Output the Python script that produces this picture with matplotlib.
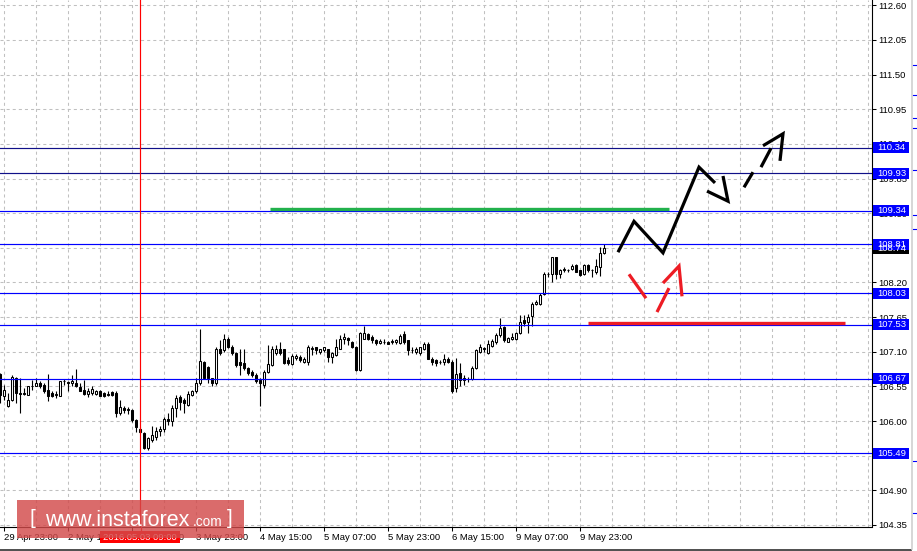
import matplotlib
matplotlib.use("Agg")
import matplotlib.pyplot as plt
from matplotlib.patches import Rectangle
from matplotlib.lines import Line2D
import numpy as np

plt.rcParams["font.family"] = ["Liberation Sans", "DejaVu Sans"]
plt.rcParams["lines.scale_dashes"] = False

# H1 bars; bar 0 = 29 Apr 23:00, the first visible bar (-1) is 29 Apr 22:00
bar_index = np.arange(-1, 151)
opens = [
    106.75, 106.40, 106.24, 106.33, 106.68, 106.44, 106.44, 106.42,
    106.56, 106.56, 106.61, 106.57, 106.49, 106.44, 106.42, 106.40,
    106.63, 106.62, 106.60, 106.61, 106.54, 106.49, 106.43, 106.44,
    106.43, 106.48, 106.44, 106.43, 106.46, 106.44, 106.12, 106.20,
    106.18, 106.18, 106.01, 105.88, 105.81, 105.58, 105.70, 105.75,
    105.84, 105.87, 106.03, 106.00, 106.20, 106.38, 106.33, 106.26,
    106.41, 106.47, 106.60, 106.94, 106.86, 106.68, 106.60, 107.14,
    107.13, 107.30, 107.18, 107.08, 106.94, 106.92, 106.84, 106.78,
    106.73, 106.65, 106.57, 106.78, 106.89, 107.08, 107.15, 107.14,
    106.97, 106.90, 107.00, 107.02, 106.94, 106.94, 107.15, 107.17,
    107.09, 107.12, 107.14, 107.02, 107.05, 107.15, 107.30, 107.32,
    107.26, 107.18, 106.81, 107.31, 107.38, 107.33, 107.29, 107.24,
    107.26, 107.26, 107.26, 107.26, 107.24, 107.38, 107.28, 107.13,
    107.10, 107.08, 107.14, 107.23, 106.99, 106.97, 106.94, 106.93,
    106.99, 106.94, 106.52, 106.76, 106.68, 106.66, 106.66, 106.84,
    107.09, 107.16, 107.08, 107.19, 107.26, 107.37, 107.49, 107.26,
    107.30, 107.30, 107.40, 107.60, 107.58, 107.67, 107.86, 107.86,
    108.02, 108.33, 108.33, 108.60, 108.33, 108.40, 108.39, 108.41,
    108.48, 108.39, 108.33, 108.48, 108.40, 108.37, 108.45, 108.67,
]
highs = [
    106.76, 106.57, 106.44, 106.73, 106.70, 106.68, 106.52, 106.56,
    106.65, 106.68, 106.63, 106.60, 106.75, 106.47, 106.48, 106.64,
    106.66, 106.64, 106.73, 106.82, 106.60, 106.65, 106.52, 106.55,
    106.50, 106.49, 106.46, 106.47, 106.47, 106.47, 106.33, 106.24,
    106.23, 106.19, 106.03, 105.90, 105.83, 105.75, 105.92, 105.91,
    105.92, 106.07, 106.12, 106.26, 106.41, 106.41, 106.36, 106.47,
    106.49, 106.68, 107.46, 106.96, 106.87, 106.69, 107.18, 107.29,
    107.38, 107.34, 107.21, 107.10, 107.15, 107.15, 106.86, 106.81,
    106.76, 106.68, 106.81, 107.21, 107.19, 107.21, 107.26, 107.15,
    107.02, 107.07, 107.06, 107.05, 107.02, 107.21, 107.19, 107.18,
    107.15, 107.18, 107.15, 107.10, 107.30, 107.37, 107.40, 107.33,
    107.27, 107.19, 107.42, 107.51, 107.40, 107.37, 107.31, 107.30,
    107.30, 107.27, 107.30, 107.31, 107.38, 107.43, 107.29, 107.18,
    107.17, 107.18, 107.26, 107.26, 107.02, 106.99, 106.97, 107.06,
    107.01, 106.97, 107.00, 106.92, 106.73, 106.70, 106.87, 107.15,
    107.23, 107.18, 107.29, 107.31, 107.39, 107.63, 107.51, 107.34,
    107.39, 107.42, 107.68, 107.68, 107.70, 107.89, 107.92, 108.03,
    108.37, 108.36, 108.61, 108.61, 108.42, 108.44, 108.41, 108.50,
    108.49, 108.40, 108.49, 108.49, 108.41, 108.58, 108.77, 108.81,
]
lows = [
    106.28, 106.33, 106.23, 106.32, 106.28, 106.13, 106.41, 106.41,
    106.50, 106.55, 106.52, 106.44, 106.32, 106.38, 106.36, 106.39,
    106.57, 106.47, 106.56, 106.54, 106.47, 106.41, 106.38, 106.42,
    106.42, 106.39, 106.38, 106.40, 106.39, 106.06, 106.10, 106.13,
    106.11, 105.99, 105.83, 105.81, 105.55, 105.54, 105.67, 105.70,
    105.76, 105.83, 105.94, 105.92, 106.07, 106.18, 106.12, 106.24,
    106.39, 106.44, 106.57, 106.66, 106.60, 106.55, 106.57, 107.05,
    107.10, 107.16, 107.05, 106.86, 106.73, 106.81, 106.73, 106.70,
    106.60, 106.24, 106.52, 106.76, 106.87, 107.05, 107.05, 106.91,
    106.89, 106.89, 106.97, 106.94, 106.92, 106.89, 107.05, 107.07,
    107.07, 107.10, 106.94, 106.92, 107.03, 107.14, 107.23, 107.21,
    107.16, 106.80, 106.80, 107.30, 107.28, 107.24, 107.21, 107.22,
    107.22, 107.22, 107.23, 107.23, 107.23, 107.23, 107.05, 107.08,
    107.07, 107.05, 107.12, 106.98, 106.89, 106.87, 106.91, 106.89,
    106.92, 106.44, 106.46, 106.55, 106.57, 106.62, 106.65, 106.82,
    107.08, 107.10, 107.07, 107.17, 107.22, 107.34, 107.26, 107.25,
    107.28, 107.29, 107.38, 107.51, 107.39, 107.51, 107.84, 107.84,
    108.00, 108.29, 108.20, 108.25, 108.27, 108.37, 108.37, 108.39,
    108.36, 108.31, 108.32, 108.36, 108.28, 108.34, 108.30, 108.65,
]
closes = [
    106.41, 106.49, 106.33, 106.70, 106.44, 106.43, 106.43, 106.55,
    106.55, 106.61, 106.55, 106.47, 106.40, 106.40, 106.42, 106.63,
    106.63, 106.61, 106.63, 106.55, 106.48, 106.43, 106.48, 106.51,
    106.47, 106.40, 106.40, 106.42, 106.41, 106.12, 106.23, 106.17,
    106.18, 106.01, 105.90, 105.82, 105.57, 105.73, 105.78, 105.84,
    105.88, 106.03, 106.00, 106.20, 106.36, 106.31, 106.29, 106.43,
    106.48, 106.61, 106.96, 106.68, 106.68, 106.60, 107.15, 107.08,
    107.31, 107.18, 107.08, 106.89, 106.89, 106.84, 106.76, 106.73,
    106.63, 106.60, 106.78, 106.90, 107.14, 107.15, 107.08, 106.92,
    106.92, 107.03, 107.03, 106.97, 106.99, 107.18, 107.16, 107.12,
    107.14, 107.17, 107.01, 107.08, 107.17, 107.30, 107.34, 107.28,
    107.17, 106.81, 107.39, 107.39, 107.31, 107.29, 107.24, 107.27,
    107.25, 107.23, 107.27, 107.29, 107.35, 107.26, 107.12, 107.12,
    107.14, 107.17, 107.23, 106.99, 106.93, 106.92, 106.94, 106.98,
    106.94, 106.47, 106.74, 106.65, 106.65, 106.66, 106.84, 107.13,
    107.17, 107.14, 107.22, 107.27, 107.37, 107.47, 107.28, 107.32,
    107.34, 107.39, 107.58, 107.56, 107.65, 107.86, 107.89, 108.00,
    108.33, 108.33, 108.60, 108.33, 108.40, 108.41, 108.39, 108.46,
    108.37, 108.32, 108.48, 108.39, 108.39, 108.46, 108.66, 108.74,
]

tick_bars = [0, 16, 32, 48, 64, 80, 96, 112, 128, 144]
tick_labels = ["29 Apr 23:00", "2 May 15:00", "3 May 07:00", "3 May 23:00",
               "4 May 15:00", "5 May 07:00", "5 May 23:00", "6 May 15:00",
               "9 May 07:00", "9 May 23:00"]
price_ticks = [104.35, 104.90, 105.45, 106.00, 106.55, 107.10, 107.65, 108.20,
               108.75, 109.30, 109.85, 110.40, 110.95, 111.50, 112.05, 112.60]

levels = [110.34, 109.93, 109.34, 108.81, 108.03, 107.53, 106.67, 105.49]
level_colors = ["#101088", "#101088", "#0000ff", "#0000ff",
                "#0000ff", "#0000ff", "#0000ff", "#0000ff"]
last_price = 108.74
marker_bar = 34          # 2016.05.03 09:00
marker_label = "2016.05.03 09:00"

green_level, green_span = 109.37, (66.5, 166.25)
red_level, red_span = 107.56, (146.0, 210.25)

# forecast sketch strokes: (bars, prices)
black_solid = [
    ([153.5, 157.5, 164.75, 173.75, 177.75], [108.68, 109.17, 108.67, 110.03, 109.78]),
    ([175.75, 181.0, 179.75], [109.65, 109.49, 109.89]),
    ([185.0, 187.25], [109.71, 109.95]),
    ([189.25, 191.75], [110.03, 110.33]),
    ([189.75, 194.75, 194.0], [110.37, 110.56, 110.13]),
]
red_strokes = [
    ([156.25, 160.5], [108.33, 107.95]),
    ([163.25, 166.25], [107.73, 108.11]),
    ([164.75, 168.75, 169.5], [108.19, 108.46, 107.98]),
]

W, H = 917, 551
fig = plt.figure(figsize=(W / 100, H / 100), dpi=100)
fig.patch.set_facecolor("white")
ax_left, ax_right, ax_bottom = 0, 871.5, 527
ax = fig.add_axes([0, (H - ax_bottom) / H, ax_right / W, ax_bottom / H])
ax.set_facecolor("white")
ax.set_xlim(-1, -1 + ax_right / 4)
ax.set_ylim(104.35 - 2 / 63, 104.35 + 525 / 63)

for s in ["top", "left"]:
    ax.spines[s].set_visible(False)
for s in ["bottom", "right"]:
    ax.spines[s].set_color("black")
    ax.spines[s].set_linewidth(0.8)

# grid
grid_kw = dict(color="#c0c0c0", lw=0.75, ls=(0, (2.2, 2.2)), zorder=0.5)
for p in price_ticks:
    ax.axhline(p, **grid_kw)
for b in range(0, 217, 8):
    ax.axvline(b, **grid_kw)

# candles
o = np.array(opens); h = np.array(highs); l = np.array(lows); c = np.array(closes)
ax.vlines(bar_index, l, h, color="black", lw=0.8, zorder=2)
body_lo = np.minimum(o, c)
body_h = np.maximum(np.abs(c - o), 0.004)
face = np.where(c >= o, "white", "black")
ax.bar(bar_index, body_h, bottom=body_lo, width=0.72, color=face,
       edgecolor="black", linewidth=0.75, zorder=3)

# levels
for v, col in zip(levels, level_colors):
    ax.axhline(v, color=col, lw=0.85, zorder=4)
ax.axvline(marker_bar, color="red", lw=0.85, zorder=4)

ax.plot(green_span, [green_level] * 2, color="#22b14c", lw=2.4,
        solid_capstyle="butt", zorder=5)
ax.plot(red_span, [red_level] * 2, color="#ed1c24", lw=2.4,
        solid_capstyle="butt", zorder=5)
for xs, ys in black_solid:
    ax.plot(xs, ys, color="black", lw=2.3, solid_capstyle="butt",
            solid_joinstyle="miter", zorder=6)
for xs, ys in red_strokes:
    ax.plot(xs, ys, color="#ed1c24", lw=2.3, solid_capstyle="butt",
            solid_joinstyle="miter", zorder=6)

# axes ticks
ax.yaxis.tick_right()
ax.set_yticks(price_ticks)
ax.set_yticklabels([f"{p:.2f}" for p in price_ticks])
ax.tick_params(axis="y", direction="out", length=2.9, width=0.75, pad=2.2,
               labelsize=6.8, colors="black")
ax.set_xticks(tick_bars)
ax.set_xticklabels(tick_labels, ha="left")
ax.tick_params(axis="x", direction="out", length=2.9, width=0.75, pad=1.5,
               labelsize=6.8, colors="black")

# price tags on the scale
ytr = ax.get_yaxis_transform()
box_x0 = 873 / ax_right
box_w = 36 / ax_right
box_h = 11 / 63


def price_tag(value, fc):
    ax.add_patch(Rectangle((box_x0, value - box_h / 2), box_w, box_h,
                           transform=ytr, facecolor=fc, edgecolor="none",
                           clip_on=False, zorder=10))
    ax.text(877 / ax_right, value, f"{value:.2f}", transform=ytr,
            color="white", fontsize=6.8, va="center", ha="left",
            clip_on=False, zorder=11)


price_tag(last_price, "black")
for v in levels:
    price_tag(v, "#0000ff")


def px(x, y):
    return x / W, 1 - y / H


# red date tag under the marker line
fig.add_artist(Line2D([140.5 / W] * 2, [1 - 527 / H, 1 - 531 / H], color="red", lw=0.85))
fig.patches.append(Rectangle(px(100, 543), 80 / W, 12 / H, transform=fig.transFigure,
                             facecolor="#ff0000", edgecolor="none", zorder=1))
fig.text(*px(140, 537), marker_label, color="white", fontsize=6.8,
         ha="center", va="center", zorder=2)

# watermark
fig.patches.append(Rectangle(px(17, 538), 227 / W, 38 / H, transform=fig.transFigure,
                             facecolor="#d24a4a", edgecolor="none", alpha=0.82, zorder=3))
fig.text(*px(29, 519), "[", color="white", fontsize=15, ha="left", va="center", zorder=4)
fig.text(*px(45, 520), "www.instaforex", color="white", fontsize=15.5,
         ha="left", va="center", zorder=4)
fig.text(*px(193, 522), ".com", color="white", fontsize=9.8,
         ha="left", va="center", zorder=4)
fig.text(*px(227, 519), "]", color="white", fontsize=15, ha="left", va="center", zorder=4)

# frame bits of the neighbouring window
fig.add_artist(Line2D([0, 911 / W], [1 - 549.5 / H] * 2, color="#303030", lw=1.2))
fig.add_artist(Line2D([911.5 / W] * 2, [1 - 549 / H, 1], color="#d0d0d0", lw=1.2))
for yy in [65, 95, 118, 128, 170, 215, 229, 461, 513]:
    fig.add_artist(Line2D([913 / W, 917 / W], [1 - yy / H] * 2, color="#0000ff", lw=0.8))

fig.savefig("out.png", dpi=100, facecolor="white")
